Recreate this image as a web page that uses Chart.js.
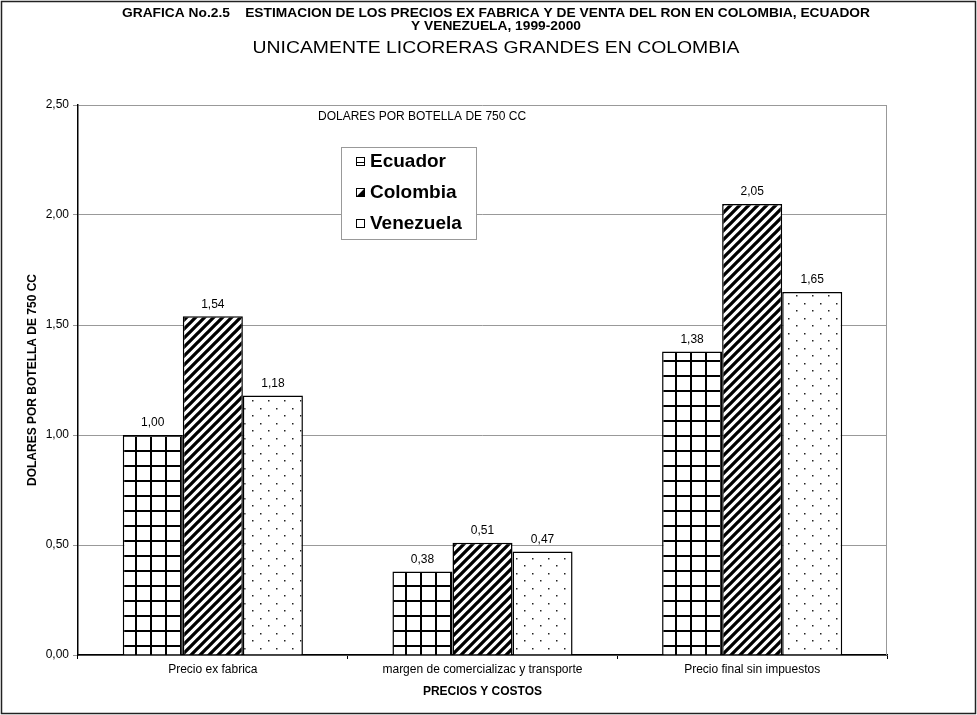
<!DOCTYPE html>
<html>
<head>
<meta charset="utf-8">
<script src="https://cdn.jsdelivr.net/npm/chart.js@4.4.1/dist/chart.umd.min.js"></script>
<style>
  html, body { margin: 0; padding: 0; background: #fff; }
  canvas { display: block; }
</style>
</head>
<body>
<canvas id="ronChart" width="977" height="715"></canvas>
<script>
const categories = ['Precio ex fabrica', 'margen de comercializac y transporte', 'Precio final sin impuestos'];
const seriesNames = ['Ecuador', 'Colombia', 'Venezuela'];
const ecuador = [1.00, 0.38, 1.38];
const colombia = [1.54, 0.51, 2.05];
const venezuela = [1.18, 0.47, 1.65];
const yTicks = [0, 0.5, 1, 1.5, 2, 2.5];

const FONT = "'Liberation Sans', Arial, sans-serif";
const fmt = v => v.toFixed(2).replace('.', ','); // coma decimal

const ctx = document.getElementById('ronChart').getContext('2d');

// tramas en blanco y negro como en la grafica original
function makePattern(kind) {
    const c = document.createElement('canvas');
    const p = c.getContext('2d');
    if (kind === 'grid') {
        c.width = 15; c.height = 15;
        p.fillStyle = '#fff'; p.fillRect(0, 0, 15, 15);
        p.fillStyle = '#000';
        p.fillRect(0, 0, 15, 2);
        p.fillRect(0, 0, 2, 15);
    } else if (kind === 'stripes') {
        c.width = 9; c.height = 9;
        p.fillStyle = '#fff'; p.fillRect(0, 0, 9, 9);
        p.strokeStyle = '#000'; p.lineWidth = 3.3;
        p.beginPath();
        p.moveTo(0, 9); p.lineTo(9, 0);
        p.moveTo(-3, 3); p.lineTo(3, -3);
        p.moveTo(6, 12); p.lineTo(12, 6);
        p.stroke();
    } else {
        c.width = 16; c.height = 15;
        p.fillStyle = '#fff'; p.fillRect(0, 0, 16, 15);
        p.fillStyle = '#222';
        p.fillRect(4, 3, 1.5, 1.5);
        p.fillRect(12, 10, 1.5, 1.5);
    }
    return ctx.createPattern(c, 'repeat');
}

const patterns = [makePattern('grid'), makePattern('stripes'), makePattern('dots')];

// texto centrado y estirado a un ancho dado (la fuente original es mas ancha)
function wideText(c, text, cx, cy, font, width) {
    c.save();
    c.font = font;
    const w = c.measureText(text).width;
    c.translate(cx, cy);
    c.scale(width / w, 1);
    c.textAlign = 'center';
    c.textBaseline = 'middle';
    c.fillText(text, 0, 0);
    c.restore();
}

const decorations = {
    id: 'decorations',
    beforeDraw(chart) {
        const c = chart.ctx;
        c.save();
        c.fillStyle = '#fff';
        c.fillRect(0, 0, chart.width, chart.height);
        c.restore();
    },
    beforeDatasetsDraw(chart) {
        const c = chart.ctx, a = chart.chartArea;
        c.save();
        c.strokeStyle = '#999';
        c.lineWidth = 1;
        c.beginPath();
        c.moveTo(a.right - 0.5, a.top);
        c.lineTo(a.right - 0.5, a.bottom);
        c.stroke();
        c.restore();
    },
    afterDatasetsDraw(chart) {
        const c = chart.ctx;
        c.save();
        c.fillStyle = '#000';
        c.font = '12px ' + FONT;
        c.textAlign = 'center';
        c.textBaseline = 'middle';
        chart.data.datasets.forEach((ds, i) => {
            chart.getDatasetMeta(i).data.forEach((bar, j) => {
                c.fillText(fmt(ds.data[j]), bar.x, bar.y - 12);
            });
        });
        c.restore();
    },
    afterDraw(chart) {
        const c = chart.ctx;
        c.save();
        // marco exterior
        c.strokeStyle = '#222';
        c.lineWidth = 1.5;
        c.strokeRect(1.5, 1.5, chart.width - 3, chart.height - 3);

        // titulos
        c.fillStyle = '#000';
        const line1 = 'GRAFICA No.2.5    ESTIMACION DE LOS PRECIOS EX FABRICA Y DE VENTA DEL RON EN COLOMBIA, ECUADOR';
        const line2 = 'Y VENEZUELA, 1999-2000';
        c.font = 'bold 12px ' + FONT;
        const k = 748 / c.measureText(line1).width;
        wideText(c, line1, 496, 14, 'bold 12px ' + FONT, 748);
        wideText(c, line2, 496, 27, 'bold 12px ' + FONT, c.measureText(line2).width * k);
        wideText(c, 'UNICAMENTE LICORERAS GRANDES EN COLOMBIA', 496, 48, '17px ' + FONT, 487);

        c.textAlign = 'left';
        c.textBaseline = 'middle';
        c.font = '12px ' + FONT;
        c.fillText('DOLARES POR BOTELLA DE 750 CC', 318, 117);

        // leyenda
        c.fillStyle = '#fff';
        c.fillRect(341, 147, 136, 93);
        c.strokeStyle = '#999';
        c.lineWidth = 1;
        c.strokeRect(341.5, 147.5, 135, 92);
        const rows = [162, 193, 224];
        chart.data.datasets.forEach((ds, i) => {
            const y = rows[i];
            const x = 356;
            c.strokeStyle = '#000';
            c.lineWidth = 1;
            c.strokeRect(x + 0.5, y - 4.5, 8, 8);
            if (i === 0) {
                c.beginPath();
                c.moveTo(x, y + 0.5); c.lineTo(x + 9, y + 0.5);
                c.stroke();
            } else if (i === 1) {
                c.fillStyle = '#000';
                c.beginPath();
                c.moveTo(x + 8.5, y - 4.5); c.lineTo(x + 8.5, y + 3.5); c.lineTo(x + 0.5, y + 3.5);
                c.closePath();
                c.fill();
            }
            c.fillStyle = '#000';
            c.font = 'bold 19px ' + FONT;
            c.fillText(ds.label, 370, y);
        });
        c.restore();
    }
};

const chart = new Chart(ctx, {
    type: 'bar',
    data: {
        labels: categories,
        datasets: [ecuador, colombia, venezuela].map((vals, i) => ({
            label: seriesNames[i],
            data: vals,
            backgroundColor: patterns[i],
            borderColor: '#000',
            borderWidth: 1.5,
            categoryPercentage: 0.668,
            barPercentage: 1
        }))
    },
    options: {
        responsive: false,
        animation: false,
        layout: { padding: { left: 10, top: 105, right: 90, bottom: 10 } },
        plugins: {
            legend: { display: false },
            tooltip: { enabled: false }
        },
        scales: {
            x: {
                grid: { drawOnChartArea: false, drawTicks: true, tickLength: 4, color: '#000' },
                border: { color: '#000', width: 1.5 },
                ticks: { color: '#000', font: { family: FONT, size: 12 }, padding: 3 },
                title: { display: true, text: 'PRECIOS Y COSTOS', color: '#000', font: { family: FONT, size: 12, weight: 'bold' }, padding: { top: 0, bottom: 6 } },
                afterFit(scale) { scale.height = 50; }
            },
            y: {
                min: 0,
                max: 2.5,
                afterBuildTicks(scale) { scale.ticks = yTicks.map(v => ({ value: v })); },
                grid: { color: '#999', tickLength: 5 },
                border: { color: '#000', width: 1.5 },
                ticks: { color: '#000', font: { family: FONT, size: 12 }, padding: 4, callback: v => fmt(v) },
                title: { display: true, text: 'DOLARES POR BOTELLA DE 750 CC', color: '#000', font: { family: FONT, size: 12, weight: 'bold' }, padding: { top: 15, bottom: 0 } },
                afterFit(scale) { scale.width = 68; }
            }
        }
    },
    plugins: [decorations]
});
</script>
</body>
</html>
